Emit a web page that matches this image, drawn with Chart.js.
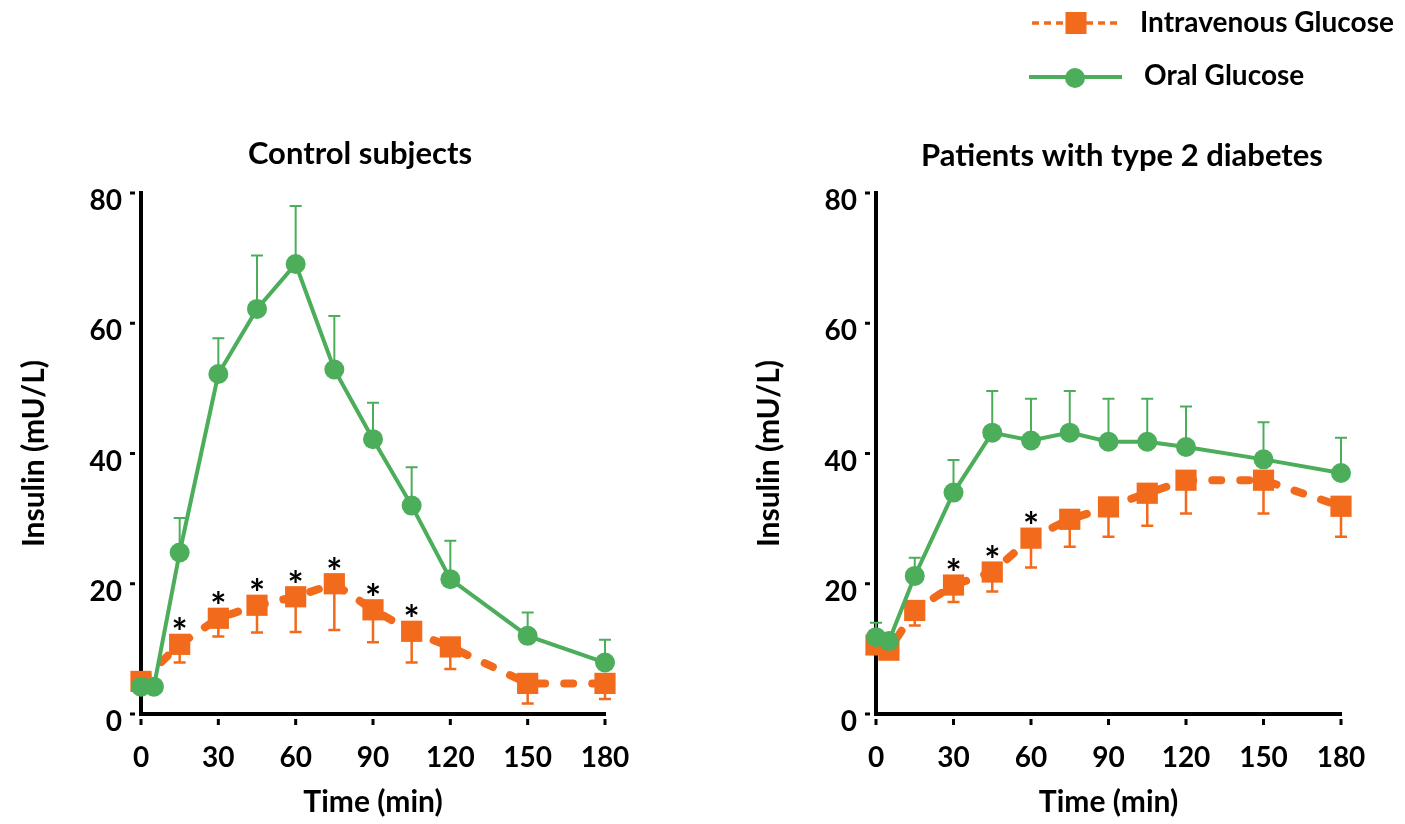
<!DOCTYPE html>
<html>
<head>
<meta charset="utf-8">
<script src="https://cdn.jsdelivr.net/npm/chart.js@4.4.0/dist/chart.umd.min.js"></script>
<style>
    html, body { margin: 0; padding: 0; background: #fff; }
    body { width: 1405px; height: 824px; position: relative; overflow: hidden; font-family: Lato, sans-serif; }
    .panel { position: absolute; top: 0; height: 824px; }
    #panelControl { left: 0; width: 700px; }
    #panelDiabetes { left: 700px; width: 705px; }
    #legend { position: absolute; left: 1000px; top: 0; }
</style>
</head>
<body>
<div class="panel" id="panelControl"><canvas id="chartControl" width="700" height="824"></canvas></div>
<div class="panel" id="panelDiabetes"><canvas id="chartDiabetes" width="705" height="824"></canvas></div>
<svg id="legend" width="405" height="110"></svg>
<script>
// insulin (mU/L), mean and SEM
const ivColor = '#f26a1c';
const oralColor = '#4cad5b';

// Control subjects
const ctrlOralTimes = [0, 5, 15, 30, 45, 60, 75, 90, 105, 120, 150, 180];
const ctrlOral = [4.2, 4.2, 24.8, 52.2, 62.2, 69.1, 52.9, 42.2, 32.0, 20.7, 12.0, 7.9];
const ctrlOralSem = [0, 0, 5.3, 5.5, 8.2, 8.9, 8.2, 5.6, 5.9, 5.9, 3.6, 3.5];
const ctrlIvTimes = [0, 15, 30, 45, 60, 75, 90, 105, 120, 150, 180];
const ctrlIv = [5.0, 10.7, 14.7, 16.7, 18.0, 20.0, 16.0, 12.7, 10.3, 4.7, 4.7];
const ctrlIvSem = [0, 2.8, 2.8, 4.2, 5.4, 7.1, 5.0, 4.8, 3.4, 3.1, 2.4];
const ctrlStars = [15, 30, 45, 60, 75, 90, 105];

// Patients with type 2 diabetes
const t2dOralTimes = [0, 5, 15, 30, 45, 60, 75, 90, 105, 120, 150, 180];
const t2dOral = [11.8, 11.2, 21.2, 34.0, 43.2, 42.0, 43.2, 41.8, 41.8, 41.0, 39.1, 37.0];
const t2dOralSem = [2.2, 0, 2.8, 5.0, 6.4, 6.4, 6.4, 6.6, 6.6, 6.2, 5.7, 5.4];
const t2dIvTimes = [0, 5, 15, 30, 45, 60, 75, 90, 105, 120, 150, 180];
const t2dIv = [10.6, 9.8, 15.9, 19.8, 21.8, 27.0, 29.9, 31.8, 33.9, 35.9, 35.9, 31.9];
const t2dIvSem = [0, 0, 2.3, 2.6, 3.0, 4.5, 4.2, 4.6, 5.0, 5.1, 5.1, 4.7];
const t2dStars = [30, 45, 60];

const xTicks = [0, 30, 60, 90, 120, 150, 180];
const yTicks = [0, 20, 40, 60, 80];

Chart.defaults.font.family = 'Lato, sans-serif';
Chart.defaults.font.weight = 'bold';
Chart.defaults.color = '#000';

// error bars, asterisks, panel title and the small detached tick marks
const extrasPlugin = {
    id: 'extras',
    beforeDatasetsDraw(chart) {
        const ctx = chart.ctx, xs = chart.scales.x, ys = chart.scales.y;
        chart.data.datasets.forEach(ds => {
            ctx.save();
            ctx.strokeStyle = ds.borderColor;
            ctx.lineWidth = ds.errWidth;
            ds.data.forEach((p, i) => {
                const e = ds.sem[i];
                if (!e) return;
                const px = xs.getPixelForValue(p.x);
                const y0 = ys.getPixelForValue(p.y);
                const y1 = ys.getPixelForValue(p.y + ds.errDir * e);
                ctx.beginPath();
                ctx.moveTo(px, y0);
                ctx.lineTo(px, y1);
                ctx.moveTo(px - 6, y1);
                ctx.lineTo(px + 6, y1);
                ctx.stroke();
            });
            ctx.restore();
        });
    },
    afterDatasetsDraw(chart, args, opts) {
        const ctx = chart.ctx, xs = chart.scales.x, ys = chart.scales.y;
        const iv = chart.data.datasets.find(d => d.label === 'Intravenous Glucose');
        ctx.save();
        ctx.fillStyle = '#000';
        ctx.font = 'bold 38px Lato';
        ctx.textAlign = 'center';
        const m = ctx.measureText('*');
        const shift = (m.actualBoundingBoxAscent - m.actualBoundingBoxDescent) / 2;
        opts.stars.forEach(t => {
            const p = iv.data.find(d => d.x === t);
            const px = xs.getPixelForValue(p.x);
            const py = ys.getPixelForValue(p.y);
            ctx.fillText('*', px, py - 21 + shift);
        });
        ctx.restore();
    },
    afterDraw(chart, args, opts) {
        const ctx = chart.ctx, xs = chart.scales.x, ys = chart.scales.y;
        const area = chart.chartArea;
        ctx.save();
        ctx.fillStyle = '#000';
        xTicks.forEach(t => {
            const px = xs.getPixelForValue(t);
            ctx.fillRect(px - 1.5, area.bottom + 5, 3, 6);
        });
        yTicks.forEach(v => {
            const py = ys.getPixelForValue(v);
            ctx.fillRect(area.left - 11, py - 1.5, 5, 3);
        });
        ctx.font = 'bold 31px Lato';
        ctx.textAlign = 'center';
        ctx.textBaseline = 'alphabetic';
        ctx.fillText(opts.title, opts.titleX, opts.titleY);
        ctx.restore();
    }
};

function makeConfig(o) {
    return {
        type: 'line',
        data: {
            datasets: [{
                label: 'Oral Glucose',
                data: o.oralTimes.map((t, i) => ({x: t, y: o.oral[i]})),
                sem: o.oralSem,
                errDir: 1,
                errWidth: 2,
                borderColor: oralColor,
                backgroundColor: oralColor,
                borderWidth: 4,
                pointStyle: 'circle',
                pointRadius: 10,
                pointBorderWidth: 0,
                pointBackgroundColor: oralColor,
                order: 0,
                clip: false
            }, {
                label: 'Intravenous Glucose',
                data: o.ivTimes.map((t, i) => ({x: t, y: o.iv[i]})),
                sem: o.ivSem,
                errDir: -1,
                errWidth: 2.5,
                borderColor: ivColor,
                backgroundColor: ivColor,
                borderWidth: 8,
                borderDash: [9, 19],
                borderCapStyle: 'round',
                pointStyle: 'rect',
                pointRadius: 15,
                pointBorderWidth: 0,
                pointBackgroundColor: ivColor,
                order: 1,
                clip: false
            }]
        },
        options: {
            responsive: false,
            animation: false,
            events: [],
            layout: {
                padding: {left: 0, top: 193, right: o.padRight, bottom: 0}
            },
            scales: {
                x: {
                    type: 'linear',
                    min: 0,
                    max: 180,
                    ticks: {stepSize: 30, padding: 27, maxRotation: 0, font: {size: 28}},
                    grid: {display: false, drawTicks: false},
                    border: {display: true, color: '#000', width: 4},
                    title: {display: true, text: 'Time (min)', font: {size: 30}, padding: {top: 0, bottom: 4}},
                    afterFit: s => { s.height = 110; }
                },
                y: {
                    min: 0,
                    max: 80,
                    ticks: {stepSize: 20, padding: 19, labelOffset: 8, font: {size: 28}},
                    grid: {display: false, drawTicks: false},
                    border: {display: true, color: '#000', width: 4},
                    title: {display: true, text: 'Insulin (mU/L)', font: {size: 30}, padding: {top: o.yTitlePad, bottom: 0}},
                    afterFit: s => { s.width = o.axisLeft; }
                }
            },
            plugins: {
                legend: {display: false},
                tooltip: {enabled: false},
                extras: {stars: o.stars, title: o.title, titleX: o.titleX, titleY: o.titleY}
            }
        },
        plugins: [extrasPlugin]
    };
}

new Chart(document.getElementById('chartControl'), makeConfig({
    oralTimes: ctrlOralTimes, oral: ctrlOral, oralSem: ctrlOralSem,
    ivTimes: ctrlIvTimes, iv: ctrlIv, ivSem: ctrlIvSem,
    stars: ctrlStars,
    title: 'Control subjects', titleX: 360, titleY: 164,
    axisLeft: 141, padRight: 95, yTitlePad: 16
}));

new Chart(document.getElementById('chartDiabetes'), makeConfig({
    oralTimes: t2dOralTimes, oral: t2dOral, oralSem: t2dOralSem,
    ivTimes: t2dIvTimes, iv: t2dIv, ivSem: t2dIvSem,
    stars: t2dStars,
    title: 'Patients with type 2 diabetes', titleX: 422, titleY: 166,
    axisLeft: 176, padRight: 64, yTitlePad: 51
}));

// legend: line + marker, as in the original figure
document.getElementById('legend').innerHTML = `
    <line x1="32" y1="23" x2="66" y2="23" stroke="${ivColor}" stroke-width="3.5" stroke-dasharray="7,5"/>
    <line x1="86" y1="23" x2="120" y2="23" stroke="${ivColor}" stroke-width="3.5" stroke-dasharray="7,5"/>
    <rect x="65.5" y="12" width="21" height="22" fill="${ivColor}"/>
    <text x="140" y="32" font-family="Lato" font-weight="bold" font-size="28" fill="#000">Intravenous Glucose</text>
    <line x1="29" y1="77" x2="122" y2="77" stroke="${oralColor}" stroke-width="4"/>
    <circle cx="75" cy="78" r="10" fill="${oralColor}"/>
    <text x="144" y="85" font-family="Lato" font-weight="bold" font-size="28" fill="#000">Oral Glucose</text>
`;
</script>
</body>
</html>
